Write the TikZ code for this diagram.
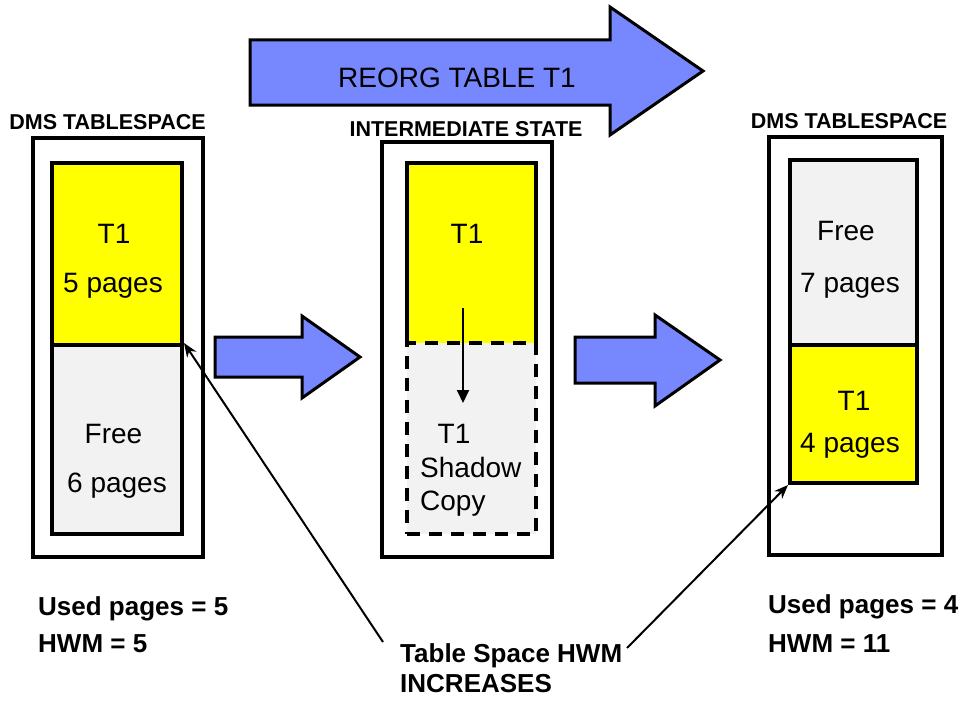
\documentclass[tikz,border=0pt]{standalone}
\usepackage{fontspec}
\setmainfont{Liberation Sans}
\usetikzlibrary{arrows.meta}
\definecolor{arrowblue}{RGB}{119,136,255}
\definecolor{pageyellow}{RGB}{255,255,0}
\definecolor{pagegray}{RGB}{242,242,242}
\tikzset{
  outerbox/.style={draw=black, line width=4pt, fill=white, inner sep=0pt},
  yelbox/.style={draw=black, line width=4pt, fill=pageyellow, inner sep=0pt},
  graybox/.style={draw=black, line width=4pt, fill=pagegray, inner sep=0pt},
  shadowbox/.style={draw=black, line width=4pt, fill=pagegray, inner sep=0pt, dash pattern=on 13pt off 9pt},
  bigarrow/.style={draw=black, line width=3pt, fill=arrowblue, line join=miter},
  inner/.style={font=\fontsize{28}{32}\selectfont, inner sep=0pt, anchor=base},
  label/.style={font=\bfseries\fontsize{21.5}{24}\selectfont, inner sep=0pt, anchor=base},
  note/.style={font=\bfseries\fontsize{26}{30}\selectfont, inner sep=0pt, anchor=base west},
  pointer/.style={draw=black, line width=2pt, -{Stealth[length=14pt,width=11pt]}},
}
\begin{document}
\begin{tikzpicture}[x=1pt,y=-1pt]
\useasboundingbox (0,0) rectangle (971,701);

% top arrow
\draw[bigarrow] (250,40) -- (610,40) -- (610,7) -- (703,71) -- (610,135) -- (610,105) -- (250,105) -- cycle;
\node[inner, font=\fontsize{28}{32}\selectfont] (reorg) at (457,88) {REORG TABLE T1};

% middle arrows
\draw[bigarrow] (215,337) -- (302,337) -- (302,316) -- (360,357) -- (302,398) -- (302,377) -- (215,377) -- cycle;
\draw[bigarrow] (575,337) -- (655,337) -- (655,315) -- (720,360) -- (655,406) -- (655,383) -- (575,383) -- cycle;

% labels
\node[label] (lblL) at (107.5,129) {DMS TABLESPACE};
\node[label] (lblM) at (466,136) {INTERMEDIATE STATE};
\node[label] (lblR) at (849,128) {DMS TABLESPACE};

% left column
\node[outerbox, minimum width=170, minimum height=419] (oL) at (118,347.5) {};
\node[yelbox, minimum width=130, minimum height=182] (yL) at (117,254) {};
\node[graybox, minimum width=130, minimum height=189] (gL) at (117,439.5) {};
\node[inner] (tL1) at (114,243) {T1};
\node[inner] (tL2) at (113,292) {5 pages};
\node[inner] (tL3) at (113.5,443) {Free};
\node[inner] (tL4) at (117,492) {6 pages};

% middle column
\node[outerbox, minimum width=170, minimum height=415] (oM) at (467,349.5) {};
\node[fill=pageyellow, inner sep=0pt, minimum width=129, minimum height=180] (yM) at (471.5,253) {};
\draw[line width=4pt] (yM.south west) -- (yM.north west) -- (yM.north east) -- (yM.south east);
\node[shadowbox, minimum width=129, minimum height=191] (sM) at (471.5,438.5) {};
\node[inner] (tM1) at (467,243) {T1};
\node[inner] (tM2) at (454,443) {T1};
\node[inner, anchor=base west] (tM3) at (420,477) {Shadow};
\node[inner, anchor=base west] (tM4) at (420,510) {Copy};
\coordinate (cpA) at (463,308);
\coordinate (cpB) at (463,403);
\draw[line width=2pt, -{Triangle[length=13pt,width=12pt]}] (cpA) -- (cpB);

% right column
\node[outerbox, minimum width=173, minimum height=418] (oR) at (855.5,346) {};
\node[graybox, minimum width=127, minimum height=185] (gR) at (853.5,252.5) {};
\node[yelbox, minimum width=127, minimum height=138] (yR) at (853.5,414) {};
\node[inner] (tR1) at (846,240) {Free};
\node[inner] (tR2) at (850,292) {7 pages};
\node[inner] (tR3) at (854,410) {T1};
\node[inner] (tR4) at (850,452) {4 pages};

% bottom notes
\node[note] (uL) at (38,615) {Used pages = 5};
\node[note] (hL) at (38,652) {HWM = 5};
\node[note] (ts) at (400,662) {Table Space HWM};
\node[note] (inc) at (400,692) {INCREASES};
\node[note] (uR) at (768,613) {Used pages = 4};
\node[note] (hR) at (768,652) {HWM = 11};

% pointers
\coordinate (pL) at (383,642);
\coordinate (pR) at (627,648);
\draw[pointer] (pL) -- (gL.north east);
\draw[pointer] (pR) -- (yR.south west);
\end{tikzpicture}
\end{document}
